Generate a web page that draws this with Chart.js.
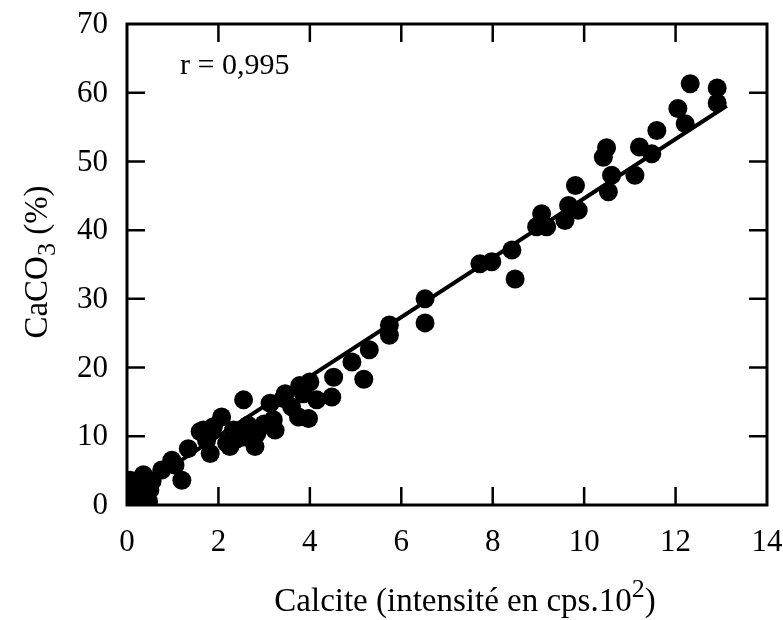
<!DOCTYPE html>
<html>
<head>
<meta charset="utf-8">
<script src="https://cdn.jsdelivr.net/npm/chart.js@4.4.1/dist/chart.umd.min.js"></script>
<style>
html,body{margin:0;padding:0;background:#fff;}
#wrap{width:783px;height:620px;}
</style>
</head>
<body>
<div id="wrap"><canvas id="c" width="783" height="620"></canvas></div>
<script>
// Measured points: calcite intensity (cps.10^2) and CaCO3 (%)
const calciteX = [0.0,0.05,0.03,0.07,0.07,0.15,0.2,0.28,0.36,0.3,0.47,0.5,0.55,0.76,0.98,1.2,1.05,1.34,1.6,1.67,1.74,1.82,1.89,2.07,2.18,2.25,2.33,2.4,2.55,2.55,2.65,2.8,2.84,3.0,3.13,3.2,3.24,3.42,3.46,3.6,3.75,3.78,3.86,3.97,4.0,4.15,4.48,4.52,4.92,5.18,5.30,5.74,5.74,6.52,6.52,7.72,7.98,8.42,8.49,8.96,9.07,9.18,9.58,9.66,9.81,9.87,10.42,10.49,10.53,10.6,11.11,11.21,11.48,11.59,12.05,12.21,12.32,12.91,12.91];
const caco3Y   = [0.3,1.0,1.7,2.5,3.6,0.8,2.0,1.2,4.4,3.0,0.5,2.2,3.5,5.1,6.5,3.6,5.8,8.2,10.7,10.9,9.4,7.5,11.4,12.8,9.0,8.5,10.9,9.6,9.9,15.3,11.6,8.5,10.4,11.8,14.8,12.4,10.9,15.5,16.2,14.3,12.8,17.4,16.2,12.6,17.9,15.3,15.7,18.6,20.8,18.3,22.6,26.2,24.7,30.0,26.5,35.1,35.4,37.1,32.9,40.5,42.4,40.5,41.4,43.6,46.5,42.9,50.6,52.0,45.6,48.0,48.0,52.1,51.1,54.5,57.7,55.5,61.3,60.7,58.5];
// Regression line end points
const fitX = [0, 13.12];
const fitY = [1.4, 58.1];
const xTicks = [0,2,4,6,8,10,12,14];
const yTicks = [0,10,20,30,40,50,60,70];
const rLabel = "r = 0,995";

const SERIF = '"Liberation Serif","DejaVu Serif",serif';

const points = calciteX.map((x,i)=>({x:x,y:caco3Y[i]}));
const fit = fitX.map((x,i)=>({x:x,y:fitY[i]}));

const decor = {
  id:'decor',
  afterDraw(chart){
    const ctx = chart.ctx, a = chart.chartArea;
    const xs = chart.scales.x, ys = chart.scales.y;
    ctx.save();
    ctx.strokeStyle = '#000';
    ctx.lineWidth = 3;
    ctx.strokeRect(a.left, a.top, a.right-a.left, a.bottom-a.top);
    ctx.lineWidth = 2.5;
    const tl = 18;
    xTicks.forEach(v=>{
      if (v===xTicks[0] || v===xTicks[xTicks.length-1]) return;
      const px = xs.getPixelForValue(v);
      ctx.beginPath();
      ctx.moveTo(px, a.bottom); ctx.lineTo(px, a.bottom-tl);
      ctx.moveTo(px, a.top); ctx.lineTo(px, a.top+tl);
      ctx.stroke();
    });
    yTicks.forEach(v=>{
      if (v===yTicks[0] || v===yTicks[yTicks.length-1]) return;
      const py = ys.getPixelForValue(v);
      ctx.beginPath();
      ctx.moveTo(a.left, py); ctx.lineTo(a.left+tl, py);
      ctx.moveTo(a.right, py); ctx.lineTo(a.right-tl, py);
      ctx.stroke();
    });
    ctx.fillStyle = '#000';
    // tick labels
    ctx.font = '31px ' + SERIF;
    ctx.textBaseline = 'middle';
    ctx.textAlign = 'center';
    xTicks.forEach(v=>{ ctx.fillText(String(v), xs.getPixelForValue(v), 543); });
    ctx.textAlign = 'right';
    yTicks.forEach(v=>{ ctx.fillText(String(v), 108, ys.getPixelForValue(v)+1); });
    // r label
    ctx.font = '30px ' + SERIF;
    ctx.textAlign = 'left';
    ctx.fillText(rLabel, xs.getPixelForValue(1.16), ys.getPixelForValue(63.8));
    // x title with superscript
    const f = 33, fs = 26;
    const p1 = 'Calcite (intensité en cps.10', p2 = '2', p3 = ')';
    ctx.font = f+'px '+SERIF; const w1 = ctx.measureText(p1).width, w3 = ctx.measureText(p3).width;
    ctx.font = fs+'px '+SERIF; const w2 = ctx.measureText(p2).width;
    const tw = w1+w2+w3;
    const cx = 465, base = 611;
    let x0 = cx - tw/2;
    ctx.textBaseline = 'alphabetic';
    ctx.font = f+'px '+SERIF; ctx.fillText(p1, x0, base);
    ctx.font = fs+'px '+SERIF; ctx.fillText(p2, x0+w1, base-14);
    ctx.font = f+'px '+SERIF; ctx.fillText(p3, x0+w1+w2, base);
    // y title with subscript
    ctx.translate(36, 262);
    ctx.rotate(-Math.PI/2);
    const q1 = 'CaCO', q2 = '3', q3 = ' (%)';
    ctx.font = f+'px '+SERIF; const v1 = ctx.measureText(q1).width, v3 = ctx.measureText(q3).width;
    ctx.font = fs+'px '+SERIF; const v2 = ctx.measureText(q2).width;
    let y0 = -(v1+v2+v3)/2;
    ctx.font = f+'px '+SERIF; ctx.fillText(q1, y0, 11);
    ctx.font = fs+'px '+SERIF; ctx.fillText(q2, y0+v1, 19);
    ctx.font = f+'px '+SERIF; ctx.fillText(q3, y0+v1+v2, 11);
    ctx.restore();
  }
};

new Chart(document.getElementById('c'), {
  type: 'scatter',
  data: {
    datasets: [
      {
        label: 'CaCO3',
        data: points,
        backgroundColor: '#000',
        borderColor: '#000',
        pointRadius: 9.5,
        pointHoverRadius: 9.5,
        borderWidth: 0
      },
      {
        type: 'line',
        label: 'fit',
        data: fit,
        borderColor: '#000',
        borderWidth: 4,
        pointRadius: 0,
        fill: false,
        showLine: true
      }
    ]
  },
  options: {
    responsive: false,
    animation: false,
    events: [],
    layout: { padding: { left: 127, top: 24, right: 16, bottom: 115 } },
    plugins: { legend: { display: false }, tooltip: { enabled: false } },
    scales: {
      x: {
        type: 'linear', min: 0, max: 14,
        afterBuildTicks: s => { s.ticks = xTicks.map(v=>({value:v})); },
        grid: { display: false, drawTicks: false },
        border: { display: false },
        ticks: { display: false }
      },
      y: {
        type: 'linear', min: 0, max: 70,
        afterBuildTicks: s => { s.ticks = yTicks.map(v=>({value:v})); },
        grid: { display: false, drawTicks: false },
        border: { display: false },
        ticks: { display: false }
      }
    }
  },
  plugins: [decor]
});
</script>
</body>
</html>
